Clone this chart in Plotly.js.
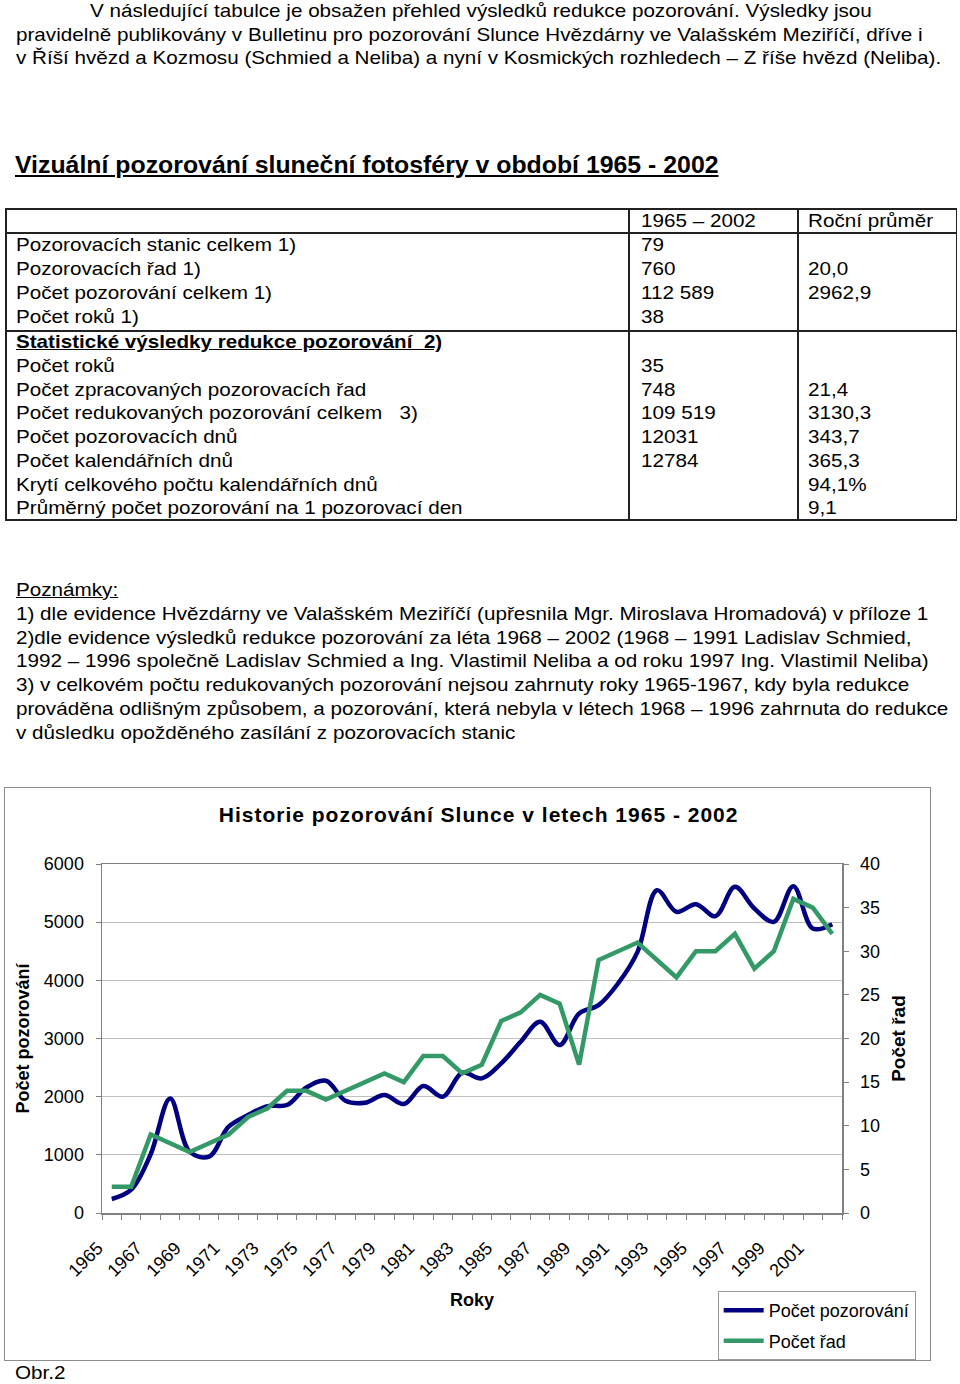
<!DOCTYPE html>
<html>
<head>
<meta charset="utf-8">
<script src="https://cdn.plot.ly/plotly-3.0.1.min.js"></script>
<style>
  html, body { margin:0; padding:0; background:#fff; }
  body { width:960px; height:1384px; position:relative; overflow:hidden;
         font-family: Arial, "Liberation Sans", sans-serif; color:#000; }
  .ln { position:absolute; white-space:pre; font-size:19px; line-height:24px; height:24px;
        transform: scaleX(1.087); transform-origin: 0 50%; }
  .hl { position:absolute; background:#222; }
  .vl { position:absolute; background:#222; }
  #chartbox { position:absolute; left:4px; top:787px; width:925px; height:572px; border:1px solid #8c8c8c; }
  #chart { width:925px; height:572px; }
  #chart .gtitle { letter-spacing: 1px; }
</style>
</head>
<body>
<div id="page"></div>
<div id="chartbox"><div id="chart"></div></div>
<script>
// ---------- text content ----------
const introLines = [
  "V následující tabulce je obsažen přehled výsledků redukce pozorování. Výsledky jsou",
  "pravidelně publikovány v Bulletinu pro pozorování Slunce Hvězdárny ve Valašském Meziříčí, dříve i",
  "v Říší hvězd a Kozmosu (Schmied a Neliba) a nyní v Kosmických rozhledech – Z říše hvězd (Neliba)."
];
const heading = "Vizuální pozorování sluneční fotosféry v období 1965 - 2002";
const tableHeader = ["", "1965 – 2002", "Roční průměr"];
const rowLabels = [
  "Pozorovacích stanic celkem 1)",
  "Pozorovacích řad 1)",
  "Počet pozorování celkem 1)",
  "Počet roků 1)",
  "Statistické výsledky redukce pozorování  2)",
  "Počet roků",
  "Počet zpracovaných pozorovacích řad",
  "Počet redukovaných pozorování celkem   3)",
  "Počet pozorovacích dnů",
  "Počet kalendářních dnů",
  "Krytí celkového počtu kalendářních dnů",
  "Průměrný počet pozorování na 1 pozorovací den"
];
const rowTotals = ["79", "760", "112 589", "38", "", "35", "748", "109 519", "12031", "12784", "", ""];
const rowAverages = ["", "20,0", "2962,9", "", "", "", "21,4", "3130,3", "343,7", "365,3", "94,1%", "9,1"];
const notesTitle = "Poznámky:";
const notesLines = [
  "1) dle evidence Hvězdárny ve Valašském Meziříčí (upřesnila Mgr. Miroslava Hromadová) v příloze 1",
  "2)dle evidence výsledků redukce pozorování za léta 1968 – 2002 (1968 – 1991 Ladislav Schmied,",
  "1992 – 1996 společně Ladislav Schmied a Ing. Vlastimil Neliba a od roku 1997 Ing. Vlastimil Neliba)",
  "3) v celkovém počtu redukovaných pozorování nejsou zahrnuty roky 1965-1967, kdy byla redukce",
  "prováděna odlišným způsobem, a pozorování, která nebyla v létech 1968 – 1996 zahrnuta do redukce",
  "v důsledku opožděného zasílání z pozorovacích stanic"
];
const figCaption = "Obr.2";

// ---------- chart data ----------
const chartTitle = "Historie pozorování Slunce v letech 1965 - 2002";
const xAxisTitle = "Roky";
const years = [1965,1966,1967,1968,1969,1970,1971,1972,1973,1974,1975,1976,1977,1978,1979,1980,1981,1982,1983,
               1984,1985,1986,1987,1988,1989,1990,1991,1992,1993,1994,1995,1996,1997,1998,1999,2000,2001,2002];
const pocetPozorovani = [240,400,1010,1970,1054,968,1483,1684,1838,1856,2159,2274,1930,1896,2027,1873,2182,2000,2411,
                         2314,2572,2944,3288,2887,3431,3574,3946,4490,5550,5178,5309,5103,5607,5235,5006,5619,4891,4966];
const pocetRad = [3,3,9,8,7,8,9,11,12,14,14,13,14,15,16,15,18,18,16,
                  17,22,23,25,24,17,29,30,31,29,27,30,30,32,28,30,36,35,32];
const yearTickLabels = ["1965","1967","1969","1971","1973","1975","1977","1979","1981","1983",
                        "1985","1987","1989","1991","1993","1995","1997","1999","2001"];

// ---------- build page text ----------
const page = document.getElementById('page');
function addLine(text, left, cy, extra) {
  const d = document.createElement('div');
  d.className = 'ln';
  d.textContent = text;
  d.style.left = left + 'px';
  d.style.top = (cy - 12) + 'px';
  if (extra) Object.assign(d.style, extra);
  page.appendChild(d);
  return d;
}
function addBox(cls, l, t, w, h) {
  const d = document.createElement('div');
  d.className = cls;
  d.style.left = l + 'px'; d.style.top = t + 'px';
  d.style.width = w + 'px'; d.style.height = h + 'px';
  page.appendChild(d);
}
const introPos = [[90, 11], [16, 35], [16, 58]];
introLines.forEach((t, i) => addLine(t, introPos[i][0], introPos[i][1]));
addLine(heading, 15, 165, {fontSize:'23px', fontWeight:'bold', textDecoration:'underline', lineHeight:'28px',
                           height:'28px', top:(165-14)+'px', transform:'scaleX(1.08)'});

// table
const colX = [16, 641, 808];
addLine(tableHeader[1], colX[1], 221);
addLine(tableHeader[2], colX[2], 221);
const rowY = [245, 269, 293, 317, 342, 366, 390, 413, 437, 461, 485, 508];
rowLabels.forEach((t, i) => {
  const extra = (i === 4) ? {fontWeight:'bold', textDecoration:'underline', transform:'scaleX(1.085)'} : null;
  addLine(t, colX[0], rowY[i], extra);
  if (rowTotals[i]) addLine(rowTotals[i], colX[1], rowY[i]);
  if (rowAverages[i]) addLine(rowAverages[i], colX[2], rowY[i]);
});
// table borders
addBox('hl', 5, 208, 952, 2);
addBox('hl', 5, 232, 952, 1.5);
addBox('hl', 5, 330, 952, 1.5);
addBox('hl', 5, 519, 952, 2);
addBox('vl', 5, 208, 1.5, 313);
addBox('vl', 628, 208, 1.5, 313);
addBox('vl', 797, 208, 1.5, 313);
addBox('vl', 955.5, 208, 1.5, 313);

// notes
addLine(notesTitle, 16, 590, {textDecoration:'underline'});
const noteY = [614, 638, 661, 685, 709, 733];
notesLines.forEach((t, i) => addLine(t, 16, noteY[i]));
addLine(figCaption, 15, 1373);

// ---------- chart ----------
const FONT = 'Arial, "Liberation Sans", sans-serif';
const traces = [
  {
    x: years, y: pocetPozorovani, name: 'Počet pozorování', type: 'scatter', mode: 'lines',
    line: {color: '#000080', width: 4.5, shape: 'spline', smoothing: 1},
    yaxis: 'y', legendgroup: 'a'
  },
  {
    x: years, y: pocetRad, name: 'Počet řad', type: 'scatter', mode: 'lines',
    line: {color: '#339966', width: 4.5},
    yaxis: 'y2', legendgroup: 'b'
  }
];
const tickVals = yearTickLabels.map(Number);
const layout = {
  width: 925, height: 572,
  margin: {l: 97, r: 88, t: 76, b: 147},
  paper_bgcolor: '#fff', plot_bgcolor: '#fff',
  font: {family: FONT, size: 16, color: '#000'},
  title: {text: '<b>' + chartTitle + '</b>', font: {family: FONT, size: 21, color: '#000'},
          x: 0.512, xref: 'container', xanchor: 'center', y: 0.953, yref: 'container', yanchor: 'middle'},
  showlegend: true,
  legend: {x: 0.832, xanchor: 'left', y: 0.1205, yref: 'container', yanchor: 'top',
           bordercolor: '#999', borderwidth: 1, bgcolor: '#fff',
           font: {family: FONT, size: 18, color: '#000'},
           traceorder: 'grouped', tracegroupgap: 4, itemwidth: 40},
  annotations: [
    {text: '<b>' + xAxisTitle + '</b>', xref: 'paper', yref: 'paper', x: 0.5, y: -0.2493,
     xanchor: 'center', yanchor: 'middle', showarrow: false,
     font: {family: FONT, size: 18, color: '#000'}}
  ],
  xaxis: {
    range: [1964.5, 2002.5], tickmode: 'array', tickvals: tickVals, ticktext: yearTickLabels,
    tickangle: -45, ticks: '', ticklabelstandoff: 16, ticklabelshift: -14,
    tickfont: {family: FONT, size: 18, color: '#000'},
    showline: true, linecolor: '#808080', linewidth: 1.5, mirror: true,
    showgrid: false, zeroline: false,
    minor: {tick0: 1964.5, dtick: 1, ticks: 'outside', ticklen: 5, tickcolor: '#808080', tickwidth: 1, showgrid: false}
  },
  yaxis: {
    range: [0, 6000], tickmode: 'linear', tick0: 0, dtick: 1000,
    ticks: 'outside', ticklen: 5, tickcolor: '#808080', ticklabelstandoff: 8,
    tickfont: {family: FONT, size: 18, color: '#000'},
    showline: true, linecolor: '#808080', linewidth: 1.5,
    showgrid: true, gridcolor: '#c0c0c0', gridwidth: 1, zeroline: false,
    title: {text: '<b>Počet pozorování</b>', font: {family: FONT, size: 18, color: '#000'}, standoff: 9}
  },
  yaxis2: {
    overlaying: 'y', side: 'right', anchor: 'x',
    range: [0, 40], tickmode: 'linear', tick0: 0, dtick: 5,
    ticks: 'outside', ticklen: 5, tickcolor: '#808080', ticklabelstandoff: 8,
    tickfont: {family: FONT, size: 18, color: '#000'},
    showline: true, linecolor: '#808080', linewidth: 1.5,
    showgrid: false, zeroline: false,
    title: {text: '<b>Počet řad</b>', font: {family: FONT, size: 19, color: '#000'}, standoff: 12}
  }
};
Plotly.newPlot('chart', traces, layout, {displayModeBar: false, staticPlot: true});
</script>
</body>
</html>
